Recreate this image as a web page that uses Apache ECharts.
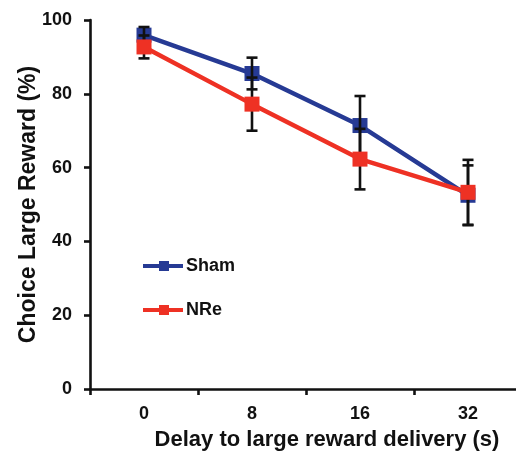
<!DOCTYPE html>
<html><head><meta charset="utf-8">
<script src="https://cdn.jsdelivr.net/npm/echarts@6/dist/echarts.min.js"></script>
<style>html,body{margin:0;padding:0;background:#fff}#c{width:516px;height:452px}</style>
</head><body><div id="c"></div>
<script>
var categories = ['0', '8', '16', '32'];
var shamMean = [95.9, 85.5, 71.4, 52.5];
var shamErr = [2.2, 4.3, 8.0, 8.1];
var nreMean = [92.7, 77.2, 62.3, 53.3];
var nreErr = [3.1, 7.2, 8.2, 8.8];
var yTicks = [0, 20, 40, 60, 80, 100];

var BLUE = '#263a94', RED = '#ee3124';
function errData(mean, err) {
  return mean.map(function (m, i) { return [i, m - err[i], m + err[i]]; });
}
function renderErr(params, api) {
  var x = api.value(0);
  var lo = api.coord([x, api.value(1)]);
  var hi = api.coord([x, api.value(2)]);
  var hw = 5.5;
  var st = { stroke: '#111', lineWidth: 2.6 };
  return { type: 'group', children: [
    { type: 'line', shape: { x1: lo[0], y1: lo[1], x2: hi[0], y2: hi[1] }, style: st },
    { type: 'line', shape: { x1: lo[0] - hw, y1: lo[1], x2: lo[0] + hw, y2: lo[1] }, style: st },
    { type: 'line', shape: { x1: hi[0] - hw, y1: hi[1], x2: hi[0] + hw, y2: hi[1] }, style: st }
  ]};
}
var FONT = 'Liberation Sans, Arial, sans-serif';
var ICON = 'path://M0,3H16V0H26V3H40V7H26V10H16V7H0Z';
var chart = echarts.init(document.getElementById('c'), null, { renderer: 'canvas' });
chart.setOption({
  animation: false,
  backgroundColor: '#fff',
  grid: { left: 90, top: 20, width: 432, height: 369, containLabel: false, outerBoundsMode: 'none' },
  legend: {
    orient: 'vertical', left: 138, top: 252, itemGap: 26,
    itemWidth: 40, itemHeight: 10,
    textStyle: { fontFamily: FONT, fontWeight: 'bold', fontSize: 18, color: '#111', padding: [0, 0, 0, -2] },
    data: [
      { name: 'Sham', icon: ICON },
      { name: 'NRe', icon: ICON }
    ]
  },
  xAxis: {
    type: 'category', data: categories, boundaryGap: true,
    name: 'Delay to large reward delivery (s)', nameLocation: 'middle', nameGap: 40,
    nameMoveOverlap: false,
    nameTextStyle: { fontFamily: FONT, fontWeight: 'bold', fontSize: 22, color: '#111', padding: [0, 0, 0, 42] },
    axisLine: { lineStyle: { color: '#111', width: 2.6 } },
    axisTick: { show: true, length: 6, lineStyle: { color: '#111', width: 2.6 } },
    axisLabel: { fontFamily: FONT, fontWeight: 'bold', fontSize: 18, color: '#111', margin: 16 },
    splitLine: { show: false }
  },
  yAxis: {
    type: 'value', min: yTicks[0], max: yTicks[yTicks.length - 1], interval: 20,
    name: 'Choice Large Reward (%)', nameLocation: 'middle', nameGap: 50,
    nameMoveOverlap: false,
    nameTextStyle: { fontFamily: FONT, fontWeight: 'bold', fontSize: 23, color: '#111' },
    axisLine: { show: true, lineStyle: { color: '#111', width: 2.6 } },
    axisTick: { show: true, length: 6, lineStyle: { color: '#111', width: 2.6 } },
    axisLabel: { fontFamily: FONT, fontWeight: 'bold', fontSize: 18, color: '#111', margin: 18 },
    splitLine: { show: false }
  },
  series: [
    { name: 'Sham', type: 'line', data: shamMean, z: 2,
      symbol: 'rect', symbolSize: 15, color: BLUE,
      lineStyle: { color: BLUE, width: 4.5 }, itemStyle: { color: BLUE } },
    { name: 'ShamErr', type: 'custom', data: errData(shamMean, shamErr), renderItem: renderErr, z: 3,
      encode: { x: 0, y: [1, 2] } },
    { name: 'NReErr', type: 'custom', data: errData(nreMean, nreErr), renderItem: renderErr, z: 3,
      encode: { x: 0, y: [1, 2] } },
    { name: 'NRe', type: 'line', data: nreMean, z: 4,
      symbol: 'rect', symbolSize: 15, color: RED,
      lineStyle: { color: RED, width: 4.5 }, itemStyle: { color: RED } }
  ]
});
</script></body></html>
